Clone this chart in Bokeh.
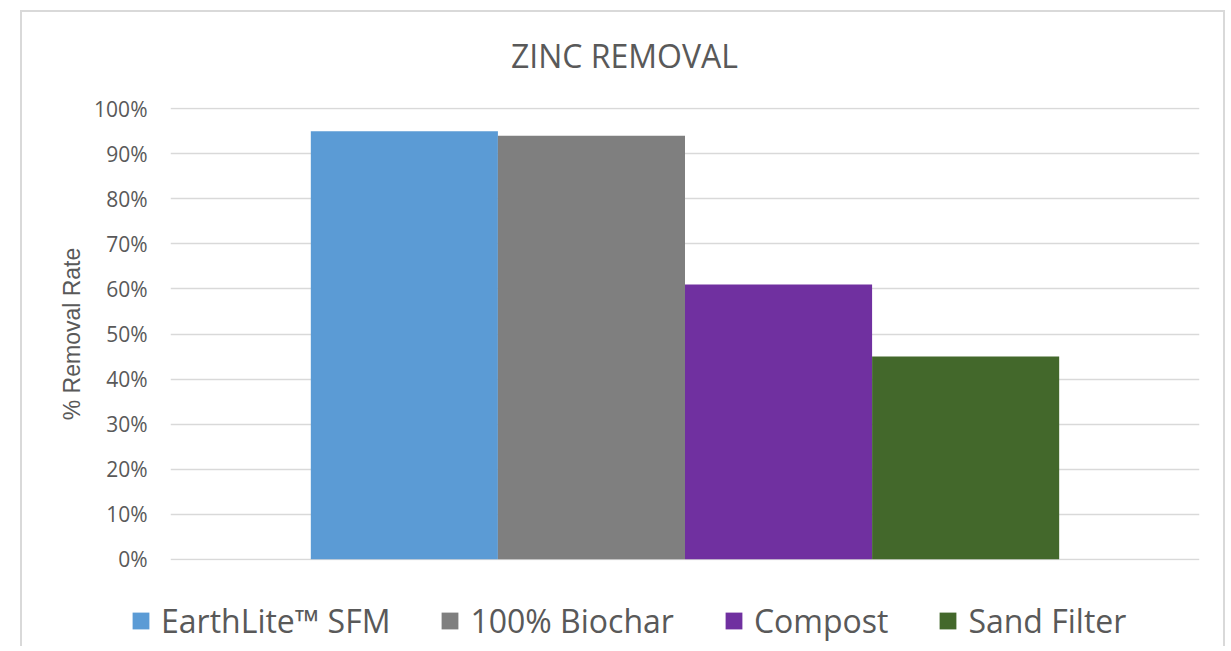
from bokeh.plotting import figure
from bokeh.layouts import column
from bokeh.models import ColumnDataSource, Range1d, NumeralTickFormatter, Legend, LegendItem, FixedTicker, Label
from bokeh.embed import file_html
from bokeh.resources import INLINE
import numpy as np

# ---- data ----
categories = ["EarthLite™ SFM", "100% Biochar", "Compost", "Sand Filter"]
removal = [0.95, 0.94, 0.61, 0.45]
colors = ["#5B9BD5", "#7F7F7F", "#7030A0", "#43682B"]
y_ticks = [0.0, 0.1, 0.2, 0.3, 0.4, 0.5, 0.6, 0.7, 0.8, 0.9, 1.0]
title_text = "ZINC REMOVAL"
y_label = "% Removal Rate"

TEXT = "#595959"
GRID = "#D9D9D9"
BORDER = "2px solid #D9D9D9"

src = ColumnDataSource(dict(x=np.arange(len(categories)), top=removal,
                            color=colors, name=categories))

# title strip
tf = figure(width=1205, height=70, output_backend="svg", toolbar_location=None,
            x_range=Range1d(0, 1), y_range=Range1d(0, 1),
            min_border_left=0, min_border_right=0, min_border_top=0, min_border_bottom=0)
tf.frame_align = False
tf.styles = {"border-top": BORDER, "border-left": BORDER, "border-right": BORDER}
tf.axis.visible = False
tf.grid.visible = False
tf.outline_line_color = None
tf.add_layout(Label(x=602, y=27, x_units="screen", y_units="screen", text=title_text,
                    text_font="Open Sans", text_font_size="32px", text_color=TEXT,
                    text_align="center", text_baseline="middle"))

# main chart
p = figure(width=1205, height=509, output_backend="svg", toolbar_location=None,
           x_range=Range1d(-1.25, len(categories) + 0.25), y_range=Range1d(-0.003, 1.003),
           min_border_left=148, min_border_right=28, min_border_top=27,
           min_border_bottom=29)
p.frame_align = False
p.styles = {"border-left": BORDER, "border-right": BORDER}
p.outline_line_color = None
p.background_fill_color = "white"
p.border_fill_color = "white"

r = p.vbar(x="x", top="top", width=1.0, bottom=0, fill_color="color",
           line_color=None, source=src)

p.xaxis.visible = False
p.xgrid.visible = False
p.ygrid.grid_line_color = GRID
p.ygrid.grid_line_width = 1.5
p.yaxis.ticker = FixedTicker(ticks=y_ticks)
p.yaxis.formatter = NumeralTickFormatter(format="0%")
p.yaxis.axis_line_color = None
p.yaxis.major_tick_line_color = None
p.yaxis.minor_tick_line_color = None
p.yaxis.major_tick_out = 0
p.yaxis.major_tick_in = 0
p.yaxis.major_label_text_font = "Open Sans"
p.yaxis.major_label_text_font_size = "21px"
p.yaxis.major_label_text_color = TEXT
p.yaxis.major_label_standoff = 23
p.yaxis.axis_label = y_label
p.yaxis.axis_label_text_font = "Liberation Sans"
p.yaxis.axis_label_text_font_size = "23px"
p.yaxis.axis_label_text_font_style = "normal"
p.yaxis.axis_label_text_color = TEXT
p.yaxis.axis_label_standoff = 6

# legend strip below the plot
lf = figure(width=1205, height=57, output_backend="svg", toolbar_location=None,
            x_range=Range1d(10, 11), y_range=Range1d(10, 11),
            min_border_left=0, min_border_right=0, min_border_top=0, min_border_bottom=0)
lf.frame_align = False
lf.styles = {"border-left": BORDER, "border-right": BORDER}
lf.axis.visible = False
lf.grid.visible = False
lf.outline_line_color = None
lr = lf.vbar(x="x", top="top", width=1.0, bottom=0, fill_color="color",
             line_color=None, source=src)

legend = Legend(items=[LegendItem(label=c, renderers=[lr], index=i) for i, c in enumerate(categories)],
                orientation="horizontal", location=(108, 4))
legend.glyph_width = 21
legend.glyph_height = 21
legend.label_standoff = 10
legend.spacing = 49
legend.padding = 0
legend.margin = 0
legend.border_line_color = None
legend.background_fill_alpha = 0
legend.label_text_font = "Open Sans"
legend.label_text_font_size = "32px"
legend.label_text_color = TEXT
lf.add_layout(legend, "center")

layout = column(tf, p, lf, margin=(10, 0, 0, 20), spacing=0)
open("out.html", "w").write(file_html(layout, INLINE))
